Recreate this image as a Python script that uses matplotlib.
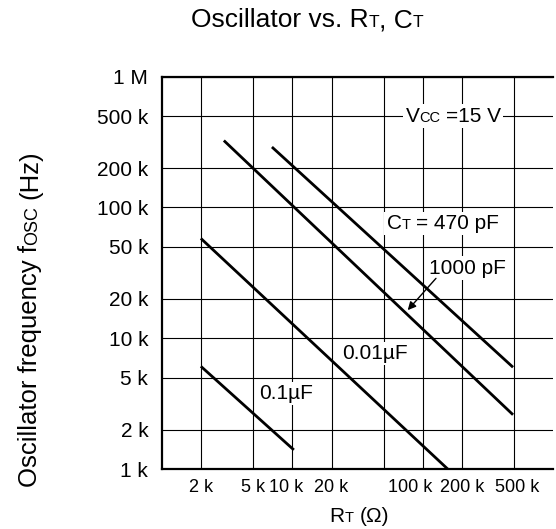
"""
Oscillator frequency vs RT, CT - log/log datasheet style chart
"""

import matplotlib
matplotlib.use('Agg')
import matplotlib.pyplot as plt
import matplotlib.transforms as mtransforms
from matplotlib import font_manager
from matplotlib.offsetbox import TextArea, HPacker, DrawingArea, AnnotationBbox
from matplotlib.ticker import NullLocator

plt.rcParams['font.family'] = ['Liberation Sans', 'DejaVu Sans']

# --- data (RT in ohm, fosc in Hz) ---
rt_470p = [7.0e3, 490e3]
f_470p = [290e3, 6.0e3]
rt_1000p = [3.0e3, 490e3]
f_1000p = [325e3, 2.6e3]
rt_10n = [2.0e3, 155e3]
f_10n = [58e3, 1.0e3]
rt_100n = [2.0e3, 10.3e3]
f_100n = [6.1e3, 1.4e3]

x_ticks = [2e3, 5e3, 10e3, 20e3, 50e3, 100e3, 200e3, 500e3]
x_tick_labels = ['2 k', '5 k', '10 k', '20 k', '', '100 k', '200 k', '500 k']
y_ticks = [1e3, 2e3, 5e3, 10e3, 20e3, 50e3, 100e3, 200e3, 500e3, 1e6]
y_tick_labels = ['1 k', '2 k', '5 k', '10 k', '20 k', '50 k', '100 k', '200 k', '500 k', '1 M']

BIG = 15
SMALL = 10.5

# x tick labels in the datasheet are set in a condensed face
_names = {f.name for f in font_manager.fontManager.ttflist}
if 'Liberation Sans Narrow' in _names:
    xfont, xsize = 'Liberation Sans Narrow', 14
else:
    xfont, xsize = 'Liberation Sans', 13


def rich(parts, gap=4.0):
    # parts: list of (text, size); None -> small space
    kids = []
    for p in parts:
        if p is None:
            kids.append(DrawingArea(gap, 1))
        else:
            kids.append(TextArea(p[0], textprops=dict(fontsize=p[1], color='k')))
    return HPacker(children=kids, align='baseline', pad=0, sep=0)


def label_box(ax, parts, xy, white=True):
    ab = AnnotationBbox(rich(parts), xy, xycoords='data', box_alignment=(0.5, 0.5),
                        frameon=white, pad=0.15,
                        bboxprops=dict(fc='white', ec='none'))
    ab.set_zorder(1.8)
    ax.add_artist(ab)
    return ab


fig = plt.figure(figsize=(5.56, 5.29), dpi=100)
ax = fig.add_axes([0.2905, 0.1134, 0.705, 0.7416])
ax.set_xscale('log')
ax.set_yscale('log')
ax.set_xlim(1e3, 1e6)
ax.set_ylim(1e3, 1e6)

for rt, f in [(rt_470p, f_470p), (rt_1000p, f_1000p), (rt_10n, f_10n), (rt_100n, f_100n)]:
    ax.plot(rt, f, color='k', lw=2.0, solid_capstyle='butt', zorder=3)

ax.set_xticks(x_ticks)
ax.set_xticklabels(x_tick_labels, fontfamily=xfont, fontsize=xsize)
ax.set_yticks(y_ticks)
ax.set_yticklabels(y_tick_labels, fontsize=BIG)
ax.xaxis.set_minor_locator(NullLocator())
ax.yaxis.set_minor_locator(NullLocator())
ax.grid(True, which='major', color='k', lw=0.8)
ax.tick_params(length=0)
ax.tick_params(axis='x', pad=7)
ax.tick_params(axis='y', pad=9.5)
for s in ['left', 'bottom', 'top']:
    ax.spines[s].set_linewidth(1.6)
ax.spines['right'].set_visible(False)

# crowded x labels are nudged like in the datasheet
shift = {'10 k': -6, '100 k': -13, '500 k': 3}
for lbl in ax.get_xticklabels():
    dx = shift.get(lbl.get_text(), 0)
    if dx:
        lbl.set_transform(lbl.get_transform() +
                          mtransforms.ScaledTranslation(dx / 100., 0, fig.dpi_scale_trans))

# curve labels
label_box(ax, [('V', BIG), ('CC', SMALL), None, ('=15 V', BIG)], (171e3, 5e5))
label_box(ax, [('C', BIG), ('T', SMALL), None, ('= 470 pF', BIG)], (142e3, 75e3))
label_box(ax, [('1000 pF', BIG)], (219e3, 34.4e3))
label_box(ax, [('0.01\u00b5F', BIG)], (43e3, 7.64e3))
label_box(ax, [('0.1\u00b5F', BIG)], (8.93e3, 3.79e3))

ax.annotate('', xy=(76.6e3, 16.4e3), xytext=(126e3, 28.7e3),
            arrowprops=dict(arrowstyle='-|>', color='k', lw=1.0, mutation_scale=12,
                            shrinkA=0, shrinkB=0), zorder=4)

# title
title = AnnotationBbox(rich([('Oscillator vs. R', 19), ('T', 12.5), (', C', 19), ('T', 12.5)]),
                       (0.552, 0.962), xycoords='figure fraction',
                       box_alignment=(0.5, 0.5), frameon=False)
fig.add_artist(title)

# x label
xl = AnnotationBbox(rich([('R', BIG), ('T', SMALL), None, ('(\u03a9)', BIG)], gap=4.5),
                    (0.6457, 0.024), xycoords='figure fraction',
                    box_alignment=(0.5, 0.5), frameon=False)
fig.add_artist(xl)

# y label (rotated pieces chained bottom to top)
t1 = fig.text(0.0763, 0.079, 'Oscillator frequency f', fontsize=18.5,
              rotation=90, ha='right', va='bottom')
t2 = plt.annotate('OSC', xy=(1, 1), xycoords=t1, xytext=(-1.2, 0), textcoords='offset points',
                  fontsize=13, rotation=90, ha='right', va='bottom', annotation_clip=False)
t3 = plt.annotate('(Hz)', xy=(1, 1), xycoords=t2, xytext=(1.2, 5), textcoords='offset points',
                  fontsize=18.5, rotation=90, ha='right', va='bottom', annotation_clip=False)

fig.savefig('out.png', dpi=100)
